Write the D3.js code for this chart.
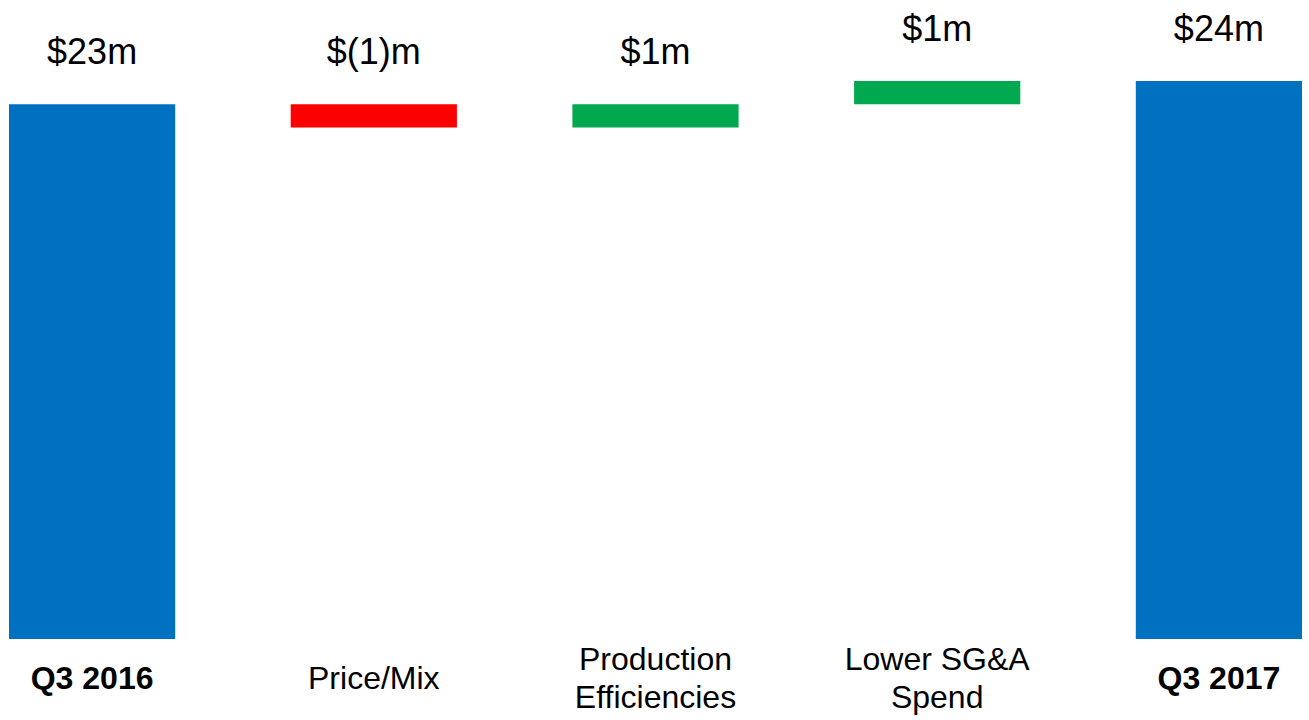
<!DOCTYPE html>
<html>
<head>
<meta charset="utf-8">
<script src="https://cdn.jsdelivr.net/npm/d3@7"></script>
<style>
  body { margin: 0; background: #fff; }
  svg { display: block; font-family: Arial, "Liberation Sans", sans-serif; }
</style>
</head>
<body>
<div id="chart"></div>
<script>
// waterfall: start, changes, end
var categories = ['Q3 2016', 'Price/Mix', 'Production Efficiencies', 'Lower SG&A Spend', 'Q3 2017'];
var labelLines = [['Q3 2016'], ['Price/Mix'], ['Production', 'Efficiencies'], ['Lower SG&A', 'Spend'], ['Q3 2017']];
var values = [23, -1, 1, 1, 24];
var kinds = ['total', 'delta', 'delta', 'delta', 'total'];
var valueLabels = ['$23m', '$(1)m', '$1m', '$1m', '$24m'];

var width = 1309, height = 720;
var colors = {total: '#0070C0', up: '#00A84F', down: '#FF0000'};

var svg = d3.select('#chart').append('svg')
    .attr('width', width)
    .attr('height', height);

// running totals -> bar start / end
var running = 0;
var bars = categories.map(function(c, i) {
  var v = values[i], y0, y1;
  if (kinds[i] == 'total') {
    y0 = 0; y1 = v; running = v;
  } else {
    y0 = running; y1 = running + v; running = y1;
  }
  return {cat: c, lines: labelLines[i], value: v, kind: kinds[i], y0: y0, y1: y1, label: valueLabels[i]};
});

var x = d3.scaleBand()
    .domain(categories)
    .range([9, 1302])
    .paddingInner(0.41)
    .paddingOuter(0);

var y = d3.scaleLinear()
    .domain([0, 24])
    .range([639, 81]);

var barColor = function(d) {
  if (d.kind == 'total') return colors.total;
  return d.value < 0 ? colors.down : colors.up;
};

svg.selectAll('rect.bar')
    .data(bars)
    .enter().append('rect')
    .attr('class', 'bar')
    .attr('x', function(d) { return x(d.cat); })
    .attr('y', function(d) { return y(Math.max(d.y0, d.y1)); })
    .attr('width', x.bandwidth())
    .attr('height', function(d) { return Math.abs(y(d.y0) - y(d.y1)); })
    .attr('fill', barColor);

// value labels above each bar
svg.selectAll('text.val')
    .data(bars)
    .enter().append('text')
    .attr('class', 'val')
    .attr('x', function(d) { return x(d.cat) + x.bandwidth() / 2; })
    .attr('y', function(d) { return y(Math.max(d.y0, d.y1)) - 40; })
    .attr('text-anchor', 'middle')
    .attr('font-size', 36)
    .attr('fill', '#000')
    .text(function(d) { return d.label; });

// category labels under the bars
var lineH = 38;
var catText = svg.selectAll('text.cat')
    .data(bars)
    .enter().append('text')
    .attr('class', 'cat')
    .attr('text-anchor', 'middle')
    .attr('font-size', 32)
    .attr('font-weight', function(d) { return d.kind == 'total' ? 'bold' : 'normal'; })
    .attr('fill', '#000');

catText.each(function(d) {
  var t = d3.select(this);
  var n = d.lines.length;
  d.lines.forEach(function(line, i) {
    t.append('tspan')
      .attr('x', x(d.cat) + x.bandwidth() / 2)
      .attr('y', 689 - (n - 1) * lineH / 2 + i * lineH)
      .text(line);
  });
});
</script>
</body>
</html>
